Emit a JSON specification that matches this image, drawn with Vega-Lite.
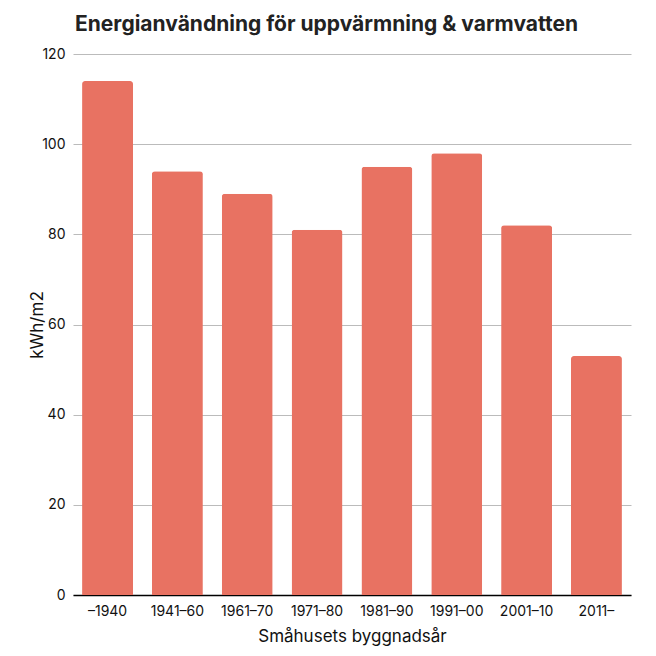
{
  "$schema": "https://vega.github.io/schema/vega-lite/v6.json",
  "autosize": {"type": "none"},
  "width": 558,
  "height": 541,
  "padding": {"left": 73, "top": 54, "right": 25, "bottom": 61},
  "background": "white",
  "title": {
    "text": "Energianvändning för uppvärmning & varmvatten",
    "anchor": "start",
    "frame": "group",
    "font": "Inter",
    "fontSize": 21,
    "fontWeight": "bold",
    "color": "#222222",
    "offset": 12,
    "dx": 2
  },
  "data": {
    "values": [
      {"period": "–1940", "value": 114},
      {"period": "1941–60", "value": 94},
      {"period": "1961–70", "value": 89},
      {"period": "1971–80", "value": 81},
      {"period": "1981–90", "value": 95},
      {"period": "1991–00", "value": 98},
      {"period": "2001–10", "value": 82},
      {"period": "2011–", "value": 53}
    ]
  },
  "mark": {"type": "bar", "color": "#E87262", "cornerRadiusTopLeft": 3, "cornerRadiusTopRight": 3},
  "encoding": {
    "x": {
      "field": "period",
      "type": "nominal",
      "sort": null,
      "scale": {"paddingInner": 0.27, "paddingOuter": 0.13},
      "axis": {
        "title": "Småhusets byggnadsår",
        "labelAngle": 0,
        "labelFont": "Inter",
        "labelFontSize": 14,
        "labelColor": "#111111",
        "labelPadding": 9,
        "titleFont": "Inter",
        "titleFontSize": 17,
        "titleFontWeight": "normal",
        "titleColor": "#111111",
        "titlePadding": 10,
        "ticks": false,
        "domainColor": "#000000",
        "domainWidth": 1.5,
        "grid": false
      }
    },
    "y": {
      "field": "value",
      "type": "quantitative",
      "scale": {"domain": [0, 120]},
      "axis": {
        "title": "kWh/m2",
        "values": [0, 20, 40, 60, 80, 100, 120],
        "labelFont": "Inter",
        "labelFontSize": 14,
        "labelColor": "#111111",
        "labelPadding": 8,
        "titleFont": "Inter",
        "titleFontSize": 17,
        "titleFontWeight": "normal",
        "titleColor": "#111111",
        "titlePadding": -5,
        "ticks": false,
        "domain": false,
        "gridColor": "#bbbbbb",
        "gridWidth": 1
      }
    }
  },
  "config": {"view": {"stroke": null}}
}
